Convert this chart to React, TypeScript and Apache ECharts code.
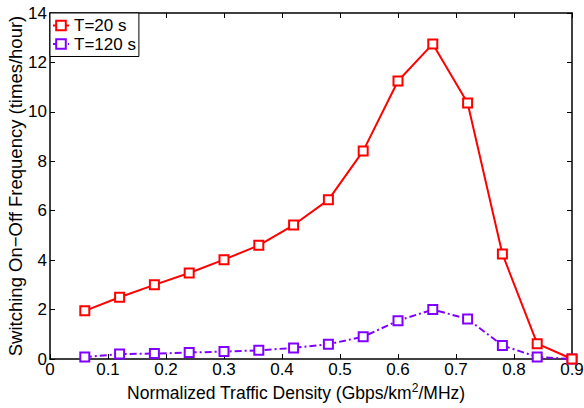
import React, { useEffect, useRef } from "react";
import * as echarts from "echarts";

const xValues = [0.06, 0.12, 0.18, 0.24, 0.3, 0.36, 0.42, 0.48, 0.54, 0.6, 0.66, 0.72, 0.78, 0.84, 0.9];
const t20 = [1.95, 2.5, 3.0, 3.48, 4.02, 4.6, 5.42, 6.44, 8.42, 11.25, 12.75, 10.36, 4.25, 0.62, 0.0];
const t120 = [0.08, 0.2, 0.22, 0.26, 0.3, 0.35, 0.45, 0.6, 0.9, 1.55, 2.0, 1.62, 0.55, 0.08, 0.0];
const seriesNames = ["T=20 s", "T=120 s"];
const xTitle = ["Normalized Traffic Density (Gbps/km", "2", "/MHz)"];
const yTitle = "Switching On\u2212Off Frequency (times/hour)";

const FONT = "Liberation Sans, Arial, Helvetica, sans-serif";

export default function App() {
  const ref = useRef<HTMLDivElement>(null);
  useEffect(() => {
    const chart = echarts.init(ref.current!, null, { renderer: "svg" });
    const axisCommon = {
      axisLine: { show: true, onZero: false, lineStyle: { color: "#000", width: 1.5 } },
      axisTick: { show: true, inside: true, length: 5, lineStyle: { color: "#000", width: 1 } },
      splitLine: { show: false },
    };
    chart.setOption({
      animation: false,
      backgroundColor: "#fff",
      textStyle: { fontFamily: FONT },
      grid: { left: 50, right: 12, top: 13, bottom: 49, containLabel: false, outerBoundsMode: "none" },
      legend: {
        orient: "vertical",
        left: 50,
        top: 13,
        padding: [4, 3, 4, 2],
        itemGap: 1.5,
        itemWidth: 16,
        itemHeight: 12,
        borderColor: "#000",
        borderWidth: 1,
        borderRadius: 0,
        backgroundColor: "#fff",
        textStyle: { fontFamily: FONT, fontSize: 17, color: "#000" },
        data: seriesNames,
      },
      xAxis: [
        {
          type: "value",
          min: 0,
          max: 0.9,
          interval: 0.1,
          position: "bottom",
          ...axisCommon,
          axisLabel: { color: "#000", fontSize: 17, fontFamily: FONT, margin: 2 },
          name: `{a|${xTitle[0]}}{s|${xTitle[1]}}{a|${xTitle[2]}}`,
          nameLocation: "middle",
          nameGap: 23,
          nameMoveOverlap: false,
          nameTextStyle: {
            padding: [0, 30, 0, 0],
            rich: {
              a: { fontSize: 17.5, fontFamily: FONT, color: "#000" },
              s: { fontSize: 12, fontFamily: FONT, color: "#000", verticalAlign: "top", padding: [0, 0, 9, 0] },
            },
          },
        },
        {
          type: "value",
          min: 0,
          max: 0.9,
          interval: 0.1,
          position: "top",
          ...axisCommon,
          axisLabel: { show: false },
        },
      ],
      yAxis: [
        {
          type: "value",
          min: 0,
          max: 14,
          interval: 2,
          position: "left",
          ...axisCommon,
          axisLabel: { color: "#000", fontSize: 17, fontFamily: FONT, margin: 3 },
          name: yTitle,
          nameLocation: "middle",
          nameGap: 25,
          nameMoveOverlap: false,
          nameTextStyle: { fontSize: 18.5, fontFamily: FONT, color: "#000" },
        },
        {
          type: "value",
          min: 0,
          max: 14,
          interval: 2,
          position: "right",
          ...axisCommon,
          axisLabel: { show: false },
        },
      ],
      series: [
        {
          name: seriesNames[0],
          type: "line",
          data: xValues.map((x, i) => [x, t20[i]]),
          symbol: "rect",
          symbolSize: 9,
          lineStyle: { color: "#ff0000", width: 2 },
          itemStyle: { color: "#fff", borderColor: "#ff0000", borderWidth: 2 },
          z: 3,
        },
        {
          name: seriesNames[1],
          type: "line",
          data: xValues.map((x, i) => [x, t120[i]]),
          symbol: "rect",
          symbolSize: 9,
          lineStyle: { color: "#8000ff", width: 2, type: [7, 3, 2, 3] },
          itemStyle: { color: "#fff", borderColor: "#8000ff", borderWidth: 2 },
          z: 2,
        },
      ],
    });
    return () => chart.dispose();
  }, []);
  return (
    <div
      ref={ref}
      style={{ position: "absolute", left: 0, top: 0, width: 584, height: 408 }}
    />
  );
}
